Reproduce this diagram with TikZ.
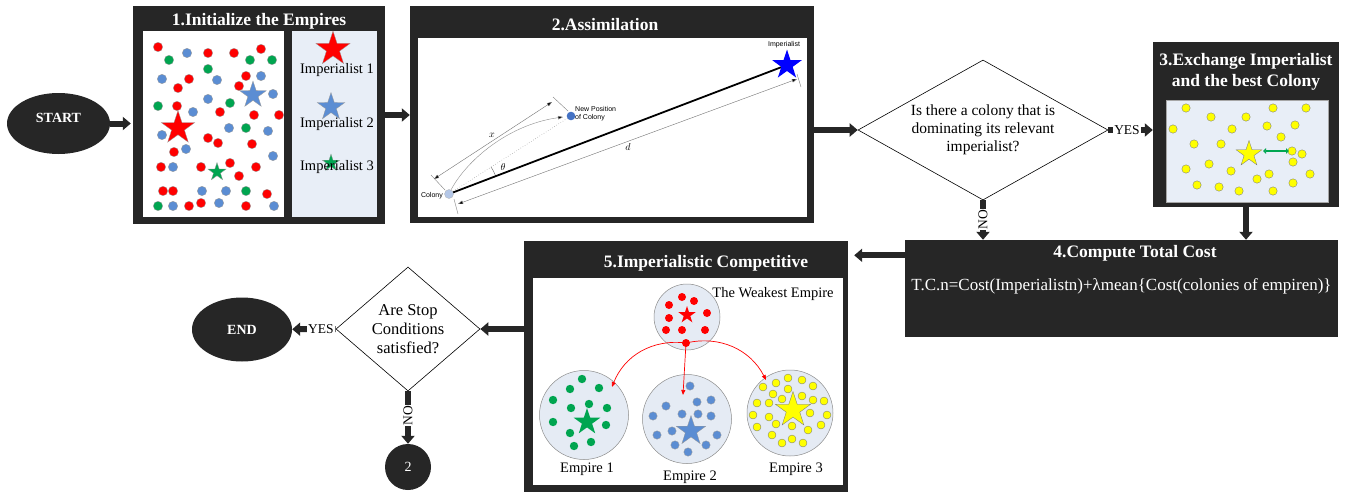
\documentclass[tikz,border=0pt]{standalone}
\usepackage{fontspec}
\setmainfont{Liberation Serif}
\newfontfamily\arialfont{Liberation Sans}
\usetikzlibrary{arrows.meta,shapes.geometric,positioning}

\definecolor{boxdark}{HTML}{262626}
\definecolor{paleblue}{HTML}{E8EEF7}
\definecolor{empirefill}{HTML}{E5EBF4}
\definecolor{dotred}{HTML}{FF0000}
\definecolor{dotgreen}{HTML}{00A550}
\definecolor{dotblue}{HTML}{5B8DD3}
\definecolor{dotyellow}{HTML}{FFFF00}
\definecolor{impblue}{HTML}{0000FF}
\definecolor{colonyblue}{HTML}{B4C7E7}
\definecolor{movedblue}{HTML}{4472C4}
\definecolor{swapgreen}{HTML}{00A651}

\begin{document}
\begin{tikzpicture}[x=1pt, y=-1pt,
    panel/.style={fill=boxdark, inner sep=0pt},
    area/.style={inner sep=0pt},
    ptitle/.style={text=white, font=\bfseries\fontsize{17.5}{21}\selectfont, align=center, inner sep=0pt},
    flow/.style={draw=boxdark, line width=6pt, -{Triangle[length=8pt,width=13pt]}},
    flowlabel/.style={fill=white, inner sep=1pt, font=\fontsize{13.5}{15}\selectfont},
    decision/.style={diamond, draw, line width=0.6pt, fill=white, inner sep=0pt, align=center},
    terminal/.style={ellipse, fill=boxdark, text=white, inner sep=0pt, font=\bfseries\fontsize{14}{16}\selectfont},
    imstar/.style={star, star points=5, star point ratio=2.6, inner sep=0pt, draw=black!40, line width=0.3pt},
    colonydot/.style={draw=black!40, line width=0.3pt},
    empire/.style={circle, fill=empirefill, draw=black!45, line width=0.5pt, inner sep=0pt},
    txt/.style={font=\fontsize{14.5}{16}\selectfont, inner sep=0pt, anchor=base},
    smalllabel/.style={font=\arialfont\fontsize{7}{8.5}\selectfont, inner sep=0pt, align=left},
    guide/.style={draw=black!50, line width=0.4pt},
    dimline/.style={draw=black!55, line width=0.4pt, {Triangle[length=5pt,width=3.5pt,fill=black]}-{Triangle[length=5pt,width=3.5pt,fill=black]}},
    redflow/.style={draw=dotred, line width=0.7pt, -{Triangle[length=5pt,width=4pt]}}
  ]
  \useasboundingbox (0,0) rectangle (1347,493);

  % 开始
  \node[terminal, minimum width=103pt, minimum height=61pt, text depth=11pt] (start) at (58.5,123.5) {START};

  % 1. 初始化
  \node[panel, minimum width=252pt, minimum height=218pt] (init) at (259,115) {};
  \node[area, fill=white, minimum width=141pt, minimum height=186pt] (initmap) at (213.5,124) {};
  \node[area, fill=paleblue, minimum width=85pt, minimum height=186pt] (initkey) at (334.5,124) {};
  \node[ptitle, anchor=base] (inittitle) at (259,25) {1.Initialize the Empires};
  \foreach \p in {(158,47),(208,53),(234,53),(261,49),(189,79),(178,88),(246,76),(239,86),(177,106),(220,112),(254,115),(279,115),(208,138),(218,143),(252,144),(174,152),(161,167),(201,167),(230,163),(239,176),(256,167),(163,191),(173,191),(267,194),(189,206),(201,203),(246,206)}
    \filldraw[colonydot, fill=dotred] \p circle (4.7pt);
  \foreach \p in {(169,60),(208,69),(250,60),(272,60),(158,106),(230,103),(246,128),(246,191),(158,206)}
    \filldraw[colonydot, fill=dotgreen] \p circle (4.7pt);
  \foreach \p in {(187,53),(162,79),(217,80),(261,76),(208,99),(193,112),(273,94),(229,128),(268,131),(162,135),(186,149),(273,156),(173,167),(202,191),(226,191),(173,206),(219,203),(274,206)}
    \filldraw[colonydot, fill=dotblue] \p circle (4.7pt);
  \node[imstar, fill=dotred, minimum size=35pt] (bigred) at (178,128) {};
  \node[imstar, fill=dotblue, minimum size=28pt] (bigblue) at (253,95) {};
  \node[imstar, fill=dotgreen, minimum size=19pt] (biggreen) at (217,172) {};
  \node[imstar, fill=dotred, minimum size=36pt] (keyred) at (333,49) {};
  \node[txt] (imp1) at (337,73) {Imperialist 1};
  \node[imstar, fill=dotblue, minimum size=29pt] (keyblue) at (331,107) {};
  \node[txt] (imp2) at (337,127) {Imperialist 2};
  \node[imstar, fill=dotgreen, minimum size=18pt] (keygreen) at (331,163) {};
  \node[txt] (imp3) at (337,170) {Imperialist 3};

  % 2. 同化
  \node[panel, minimum width=404pt, minimum height=217pt] (assim) at (612,114.5) {};
  \node[area, fill=white, minimum width=389pt, minimum height=179pt] (assimarea) at (612.5,127.5) {};
  \node[ptitle, anchor=base] (assimtitle) at (605,30) {2.Assimilation};
  \coordinate (colony) at (449,194);
  \coordinate (imp) at (787,65);
  \coordinate (newpos) at (571,116);
  \draw[guide] (454,199) -- (458,214);
  \draw[guide] (797,74) -- (801,87);
  \draw[guide] (445,190) -- (431,175);
  \draw[guide] (568,111) -- (553,97);
  \draw[dimline] (458,204) -- (797,79);
  \draw[dimline] (434,179) -- (552,102);
  \draw[black!45, dotted, line width=0.5pt] (colony) -- (newpos);
  \draw[black!45, line width=0.4pt, -{Triangle[length=5pt,width=3.5pt,fill=black]}] (colony) .. controls (462,165) and (505,125) .. (563,117);
  \draw[black!60, line width=0.4pt] (495.7,176.1) arc[start angle=-21, end angle=-33, radius=50];
  \draw[line width=1.8pt] (colony) -- (imp);
  \filldraw[draw=black!30, fill=colonyblue, line width=0.3pt] (colony) circle (4.5pt);
  \fill[movedblue] (newpos) circle (4.3pt);
  \node[imstar, fill=impblue, draw=none, minimum size=31pt] (impstar) at (imp) {};
  \node[smalllabel, anchor=base] (implabel) at (784,46) {Imperialist};
  \node[smalllabel, anchor=base east] (colonylabel) at (443,197) {Colony};
  \node[smalllabel, anchor=west] (newlabel) at (575,113.5) {New Position\\ of Colony};
  \node[inner sep=0pt, font=\fontsize{10}{11}\selectfont] (xlabel) at (492,135) {$x$};
  \node[inner sep=0pt, font=\fontsize{10}{11}\selectfont] (dlabel) at (628,147) {$d$};
  \node[inner sep=0pt, font=\fontsize{10}{11}\selectfont] (thetalabel) at (503,167) {$\theta$};

  % 判断 1
  \node[decision, shape aspect=1.79, minimum width=250pt, minimum height=140pt, font=\fontsize{15.5}{18}\selectfont] (check) at (983,130) {Is there a colony that is\\dominating its relevant\\imperialist?};

  % 3. 交换
  \node[panel, minimum width=186pt, minimum height=165pt] (exch) at (1246,124.5) {};
  \node[area, fill=paleblue, draw=black!35, line width=0.4pt, minimum width=162pt, minimum height=102pt] (excharea) at (1247,151) {};
  \node[ptitle] (exchtitle) at (1246,71.5) {3.Exchange Imperialist\\and the best Colony};
  \foreach \p in {(1186,108),(1211,117),(1246,117),(1273,108),(1306,108),(1173,129),(1232,129),(1267,126),(1295,125),(1281,137),(1194,144),(1221,144),(1292,151),(1302,154),(1293,162),(1186,169),(1209,164),(1231,171),(1269,174),(1310,174),(1257,179),(1197,185),(1219,187),(1239,191),(1273,191),(1293,183)}
    \filldraw[colonydot, draw=black!55, fill=dotyellow] \p circle (4.2pt);
  \node[imstar, fill=dotyellow, draw=black!55, minimum size=27pt] (exchstar) at (1249,154) {};
  \draw[swapgreen, line width=2.6pt, {Triangle[length=3pt,width=5.5pt]}-{Triangle[length=3pt,width=5.5pt]}] (1263,151) -- (1289,151);

  % 4. 总成本
  \node[panel, minimum width=433pt, minimum height=97pt] (cost) at (1121.5,288.5) {};
  \node[ptitle, anchor=base] (costtitle) at (1135,257) {4.Compute Total Cost};
  \node[inner sep=0pt, anchor=base, text=white, font=\fontsize{17}{20}\selectfont] (formula) at (1121.5,290) {T.C.n=Cost(Imperialistn)+λmean\{Cost(colonies of empiren)\}};

  % 5. 帝国竞争
  \node[panel, minimum width=324pt, minimum height=251pt] (compete) at (686,366.5) {};
  \node[area, fill=white, minimum width=310pt, minimum height=207pt] (competearea) at (688,381.5) {};
  \node[ptitle, anchor=base] (competetitle) at (706,267) {5.Imperialistic Competitive};
  \node[empire, minimum size=66pt] (weak) at (687,317) {};
  \node[empire, minimum size=89pt] (emp1) at (584,415) {};
  \node[empire, minimum size=89pt] (emp2) at (687,419) {};
  \node[empire, minimum size=86pt] (emp3) at (790,413) {};
  \foreach \p in {(669,305),(682,297),(694,301),(707,313),(669,318),(666,330),(682,330),(705,330),(686,343)}
    \fill[dotred] \p circle (4pt);
  \node[imstar, fill=dotred, draw=none, minimum size=18pt] (weakstar) at (687,315) {};
  \foreach \p in {(582,379),(599,388),(570,389),(553,400),(571,408),(589,404),(607,408),(553,422),(606,425),(570,433),(591,442),(574,446)}
    \fill[dotgreen] \p circle (4.2pt);
  \node[imstar, fill=dotgreen, draw=none, minimum size=28pt] (emp1star) at (587,422) {};
  \foreach \p in {(690,386),(666,406),(697,402),(711,400),(653,416),(682,414),(698,414),(711,416),(672,431),(657,435),(717,435),(675,445),(706,445),(688,452)}
    \filldraw[colonydot, fill=dotblue] \p circle (4.2pt);
  \node[imstar, fill=dotblue, minimum size=31pt] (emp2star) at (691,431) {};
  \foreach \p in {(763,387),(776,383),(788,378),(802,380),(813,386),(773,394),(788,389),(782,399),(802,396),(813,400),(757,403),(769,403),(824,401),(753,415),(769,417),(810,413),(827,415),(757,427),(776,424),(792,426),(808,430),(821,425),(772,435),(782,443),(792,439),(803,443)}
    \filldraw[colonydot, draw=black!55, fill=dotyellow] \p circle (4pt);
  \node[imstar, fill=dotyellow, draw=black!55, minimum size=37pt] (emp3star) at (793,410) {};
  \coordinate (loser) at (686,343);
  \draw[redflow] (loser) to[bend right=38] (612,387);
  \draw[redflow] (loser) -- (683,395);
  \draw[redflow] (loser) to[bend left=38] (766,380);
  \node[txt] (weaklabel) at (773,297) {The Weakest Empire};
  \node[txt] (emp1label) at (587,472) {Empire 1};
  \node[txt] (emp2label) at (690,480) {Empire 2};
  \node[txt] (emp3label) at (796,472) {Empire 3};

  % 判断 2 与结束
  \node[decision, shape aspect=1.16, minimum width=144pt, minimum height=124pt, font=\fontsize{16.5}{19}\selectfont] (stop) at (408,329) {Are Stop\\Conditions\\satisfied?};
  \node[terminal, minimum width=100pt, minimum height=64pt] (finish) at (242,329.5) {END};
  \node[circle, fill=boxdark, text=white, inner sep=0pt, minimum size=46pt, font=\fontsize{14}{16}\selectfont] (again) at (408,467) {2};

  % 连线
  \draw[flow, shorten >=2pt] (start) -- (start -| init.west);
  \draw[flow] (init.east) -- (init.east -| assim.west);
  \draw[flow] (assim.east |- check.west) -- (check.west);
  \draw[flow] (check.east) -- node[flowlabel, pos=0.42] {YES} (check.east -| exch.west);
  \draw[flow] (check.south) -- node[flowlabel, rotate=90, pos=0.48] {NO} (check.south |- cost.north);
  \draw[flow] (exch.south) -- (exch.south |- cost.north);
  \draw[flow, shorten >=6pt] ([yshift=-15.5pt]cost.north west) -- ([yshift=-15.5pt]cost.north west -| compete.east);
  \draw[flow] (compete.west |- stop.east) -- (stop.east);
  \draw[flow] (stop.west) -- node[flowlabel, pos=0.34] {YES} (finish);
  \draw[flow] (stop.south) -- node[flowlabel, rotate=90, pos=0.46] {NO} (again);
\end{tikzpicture}
\end{document}
